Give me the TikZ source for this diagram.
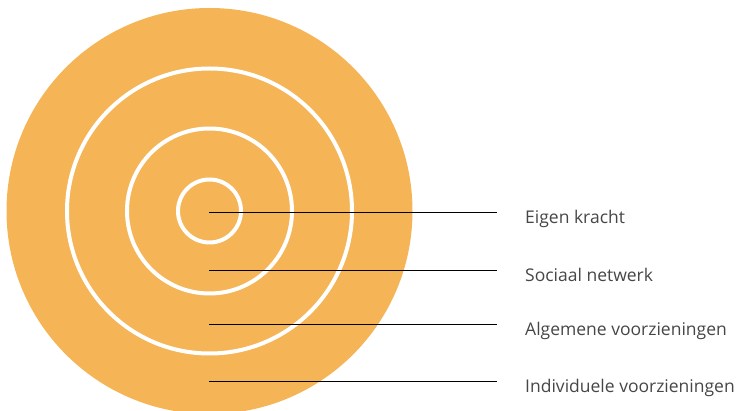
\documentclass[tikz,border=0pt]{standalone}
\usepackage{fontspec}
\setmainfont{Open Sans}
\definecolor{ringOrange}{RGB}{245,180,85}
\definecolor{labelGray}{RGB}{70,70,70}
\tikzset{
  every picture/.style={font={\fontsize{17.5}{20}\selectfont}},
  ring/.style={draw=white, line width=4pt},
  leader/.style={draw=black, line width=0.9pt},
  layerLabel/.style={anchor=base west, text=labelGray, inner sep=0pt}}

\begin{document}
\begin{tikzpicture}[x=1pt, y=-1pt]
  \useasboundingbox (0,0) rectangle (742,411);
  \begin{scope}
    \clip (0,0) rectangle (742,411);
    \fill[ringOrange] (209.5,211) circle[radius=203];
  \end{scope}
  \draw[ring] (209.5,211) circle[radius=142.5];
  \draw[ring] (209.5,211) circle[radius=82.5];
  \draw[ring] (209.5,211) circle[radius=31.5];

  % labels, one per layer
  \foreach \name/\y/\txt in {own/212.5/Eigen kracht,
      social/270/Sociaal netwerk,
      general/324/Algemene voorzieningen,
      individual/381.5/Individuele voorzieningen}{
    \coordinate (\name-start) at (209,\y);
    \coordinate (\name-end) at (497,\y);
    \node[layerLabel] (\name-label) at (525,\y+11.5) {\txt};
    \draw[leader] (\name-start) -- (\name-end);
  }
\end{tikzpicture}
\end{document}
